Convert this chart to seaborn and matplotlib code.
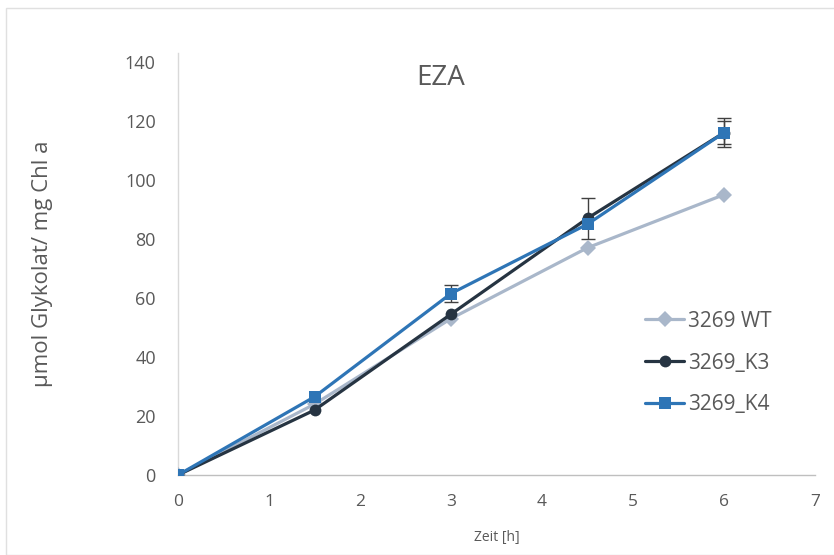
import matplotlib
matplotlib.use("Agg")
import matplotlib.pyplot as plt
import seaborn as sns
import pandas as pd
from matplotlib.patches import Rectangle

sns.set_style("white")
plt.rcParams['font.family'] = ['Open Sans', 'DejaVu Sans']

time_h = [0, 1.5, 3, 4.5, 6]
wt = [0, 24, 53, 77, 95]
k3 = [0, 22, 54.5, 87, 116]
k4 = [0, 26.5, 61.5, 85, 116]
k3_err = [0, 0, 0, 7, 5]
k4_err = [0, 0, 3, 0, 4]
series_names = ["3269 WT", "3269_K3", "3269_K4"]
colors = {"3269 WT": "#A9B7CA", "3269_K3": "#263442", "3269_K4": "#2E75B6"}
markers = {"3269 WT": "D", "3269_K3": "o", "3269_K4": "s"}

df = pd.DataFrame({
    "Zeit": time_h * 3,
    "val": wt + k3 + k4,
    "Serie": [s for s in series_names for _ in time_h],
})

fig = plt.figure(figsize=(8.34, 5.55), dpi=100)
ax = fig.add_axes([178/834, 1-475/555, (815-178)/834, (475-53)/555])

# error bars
for vals, errs, name in [(k3, k3_err, "3269_K3"), (k4, k4_err, "3269_K4")]:
    xs = [t for t, e in zip(time_h, errs) if e > 0]
    ys = [v for v, e in zip(vals, errs) if e > 0]
    es = [e for e in errs if e > 0]
    ax.errorbar(xs, ys, yerr=es, fmt="none", ecolor="#404040", elinewidth=1,
                capsize=5, capthick=1, zorder=1)

sns.lineplot(data=df, x="Zeit", y="val", hue="Serie", style="Serie",
             palette=colors, markers=markers, dashes=False, linewidth=2.3,
             markersize=8.5, markeredgewidth=0, ax=ax, zorder=3)

ax.set_xlim(0, 7)
ax.set_ylim(0, 143)
ax.set_xticks(range(0, 8))
ax.set_yticks(range(0, 141, 20))
ax.tick_params(axis="both", length=0, colors="#595959")
for lab in ax.get_yticklabels():
    lab.set_fontsize(13)
for lab in ax.get_xticklabels():
    lab.set_fontsize(12.5)
ax.tick_params(axis="y", pad=16)
ax.tick_params(axis="x", pad=14)

for s in ["top", "right"]:
    ax.spines[s].set_visible(False)
ax.spines["left"].set_color("#D9D9D9")
ax.spines["bottom"].set_color("#BFBFBF")
ax.spines["left"].set_linewidth(1)
ax.spines["bottom"].set_linewidth(1)

ax.set_xlabel("Zeit [h]", fontsize=10, color="#595959", labelpad=14)
ax.set_ylabel("µmol Glykolat/ mg Chl a", fontsize=16, color="#595959", labelpad=52)
ax.text(441/834, 1-78/555, "EZA", transform=fig.transFigure, fontsize=20,
        color="#595959", ha="center", va="center")

leg = ax.legend(loc="upper left", bbox_to_anchor=(626/834, 1-292/555),
                bbox_transform=fig.transFigure, frameon=False, fontsize=15,
                labelspacing=1.0, handlelength=1.9, handletextpad=0.2)
for t in leg.get_texts():
    t.set_color("#595959")

fig.patches.append(Rectangle((6/834, 0), 1, 1-8/555, transform=fig.transFigure,
                             fill=False, edgecolor="#E0E0E0", linewidth=1))

fig.savefig("out.png", dpi=100)
